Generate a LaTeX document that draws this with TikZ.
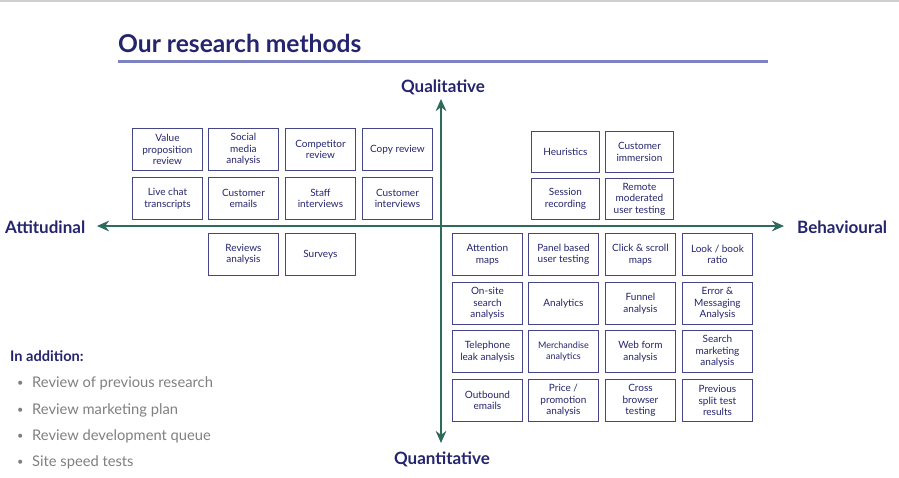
\documentclass[tikz,border=0pt]{standalone}
\usepackage{fontspec}
\setmainfont{Lato}
\usetikzlibrary{arrows.meta}
\definecolor{navy}{HTML}{25256E}
\definecolor{boxline}{HTML}{45458A}
\definecolor{axis}{HTML}{2F6B5A}
\definecolor{uline}{HTML}{7C82C2}
\definecolor{graytxt}{HTML}{808080}
\definecolor{topline}{HTML}{CFCFCF}
\tikzset{
  mbox/.style={draw=boxline, line width=0.9pt, minimum width=70pt, minimum height=42pt,
    anchor=north west, align=center, text=navy, inner sep=1pt,
    font=\fontsize{10pt}{11.5pt}\selectfont},
  axlabel/.style={text=navy, font=\fontsize{17pt}{20pt}\selectfont\bfseries},
  axisline/.style={draw=axis, line width=2.8pt, {Stealth[length=12pt,width=10.5pt]}-{Stealth[length=12pt,width=10.5pt]}},
  listtxt/.style={anchor=base west, inner sep=0pt, text=graytxt, font=\fontsize{14.7pt}{17pt}\selectfont},
}
\begin{document}
\begin{tikzpicture}[x=1pt,y=-1pt]
\useasboundingbox (0,0) rectangle (899,477);
\fill[white] (0,0) rectangle (899,477);
% top rule
\draw[topline, line width=2pt] (0,1) -- (899,1);
% title
\node[anchor=base west, text=navy, inner sep=0pt, font=\fontsize{24.6pt}{28pt}\selectfont\bfseries] (title) at (118,52) {Our research methods};
\coordinate (ulA) at (118,61);
\coordinate (ulB) at (768,61);
\draw[uline, line width=3pt] (ulA) -- (ulB);
% axes
\coordinate (vtop) at (441,99);
\coordinate (vbot) at (441,443);
\coordinate (hleft) at (97,226);
\coordinate (hright) at (784,226);
\draw[axisline] (vtop) -- (vbot);
\draw[axisline] (hleft) -- (hright);
\node[axlabel] (qual) at (443,87) {Qualitative};
\node[axlabel] (quant) at (442,459) {Quantitative};
\node[axlabel, anchor=west, inner sep=0pt] (att) at (5,227) {Attitudinal};
\node[axlabel, anchor=west, inner sep=0pt] (beh) at (797,227) {Behavioural};
% top-left
\node[mbox] (b11) at (132,128) {Value\\proposition\\review};
\node[mbox] (b12) at (208,128) {Social\\media\\analysis};
\node[mbox] (b13) at (285,128) {Competitor\\review};
\node[mbox] (b14) at (362,128) {Copy review};
\node[mbox] (b21) at (132,177) {Live chat\\transcripts};
\node[mbox] (b22) at (208,177) {Customer\\emails};
\node[mbox] (b23) at (285,177) {Staff\\interviews};
\node[mbox] (b24) at (362,177) {Customer\\interviews};
\node[mbox] (b32) at (208,233) {Reviews\\analysis};
\node[mbox] (b33) at (285,233) {Surveys};
% top-right
\node[mbox, minimum width=68pt, minimum height=41pt] (h1) at (531,131) {Heuristics};
\node[mbox, minimum width=68pt, minimum height=41pt] (h2) at (605,131) {Customer\\immersion};
\node[mbox, minimum width=68pt, minimum height=41pt] (h3) at (531,178) {Session\\recording};
\node[mbox, minimum width=68pt, minimum height=41pt] (h4) at (605,178) {Remote\\moderated\\user testing};
% bottom-right
\node[mbox] (q11) at (452,233) {Attention\\maps};
\node[mbox] (q12) at (528,233) {Panel based\\user testing};
\node[mbox] (q13) at (605,233) {Click \& scroll\\maps};
\node[mbox] (q14) at (682,233) {Look / book\\ratio};
\node[mbox] (q21) at (452,282) {On-site\\search\\analysis};
\node[mbox] (q22) at (528,282) {Analytics};
\node[mbox] (q23) at (605,282) {Funnel\\analysis};
\node[mbox] (q24) at (682,282) {Error \&\\Messaging\\Analysis};
\node[mbox] (q31) at (452,330) {Telephone\\leak analysis};
\node[mbox, font=\fontsize{9pt}{11.5pt}\selectfont] (q32) at (528,330) {Merchandise\\analytics};
\node[mbox] (q33) at (605,330) {Web form\\analysis};
\node[mbox] (q34) at (682,330) {Search\\marketing\\analysis};
\node[mbox] (q41) at (452,379) {Outbound\\emails};
\node[mbox] (q42) at (528,379) {Price /\\promotion\\analysis};
\node[mbox] (q43) at (605,379) {Cross\\browser\\testing};
\node[mbox] (q44) at (682,379) {Previous\\split test\\results};
% in addition
\node[anchor=base west, inner sep=0pt, text=navy, font=\fontsize{14.6pt}{17pt}\selectfont\bfseries] (add) at (10,361) {In addition:};
\foreach \y/\t [count=\i] in {387/Review of previous research, 414/Review marketing plan, 440/Review development queue, 466/Site speed tests}{
  \node[listtxt, font=\fontsize{11pt}{13pt}\selectfont] (dot\i) at (17,\y-1) {•};
  \node[listtxt] (it\i) at (32,\y) {\t};
}
\end{tikzpicture}
\end{document}
